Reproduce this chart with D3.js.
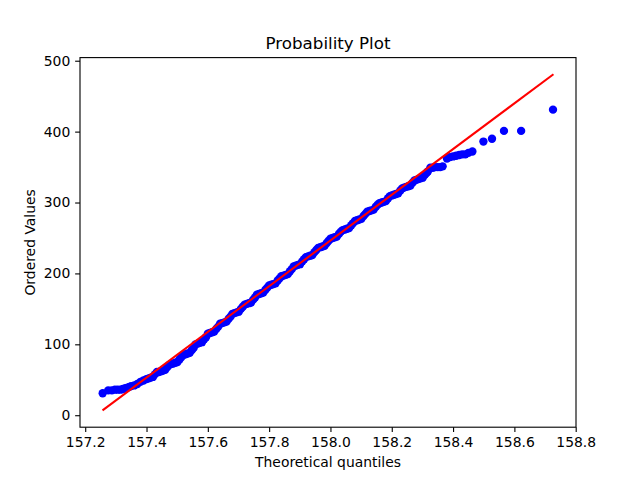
<!DOCTYPE html>
<html>
<head>
<meta charset="utf-8">
<script src="https://cdn.jsdelivr.net/npm/d3@7"></script>
<style>
  html, body { margin: 0; padding: 0; background: #fff; }
  text { font-family: "DejaVu Sans", sans-serif; }
</style>
</head>
<body>
<svg id="chart" width="640" height="480"></svg>
<script>
// Theoretical quantiles (x)
const quantiles = [
  157.257, 157.275, 157.287, 157.297, 157.306, 157.315, 157.323, 157.331, 157.338, 157.344,
  157.35, 157.36, 157.37, 157.38, 157.39,
  157.400, 157.407, 157.414, 157.421, 157.428, 157.434,
  157.440, 157.447, 157.454, 157.461, 157.468, 157.474,
  157.480, 157.487, 157.494, 157.501, 157.508, 157.514,
  157.520, 157.527, 157.534, 157.541, 157.548, 157.554,
  157.560, 157.567, 157.574, 157.581, 157.588, 157.594,
  157.600, 157.607, 157.614, 157.621, 157.628, 157.634,
  157.640, 157.647, 157.654, 157.661, 157.668, 157.674,
  157.680, 157.687, 157.694, 157.701, 157.708, 157.714,
  157.720, 157.727, 157.734, 157.741, 157.748, 157.754,
  157.760, 157.767, 157.774, 157.781, 157.788, 157.794,
  157.800, 157.807, 157.814, 157.821, 157.828, 157.834,
  157.840, 157.847, 157.854, 157.861, 157.868, 157.874,
  157.880, 157.887, 157.894, 157.901, 157.908, 157.914,
  157.920, 157.927, 157.934, 157.941, 157.948, 157.954,
  157.960, 157.967, 157.974, 157.981, 157.988, 157.994,
  158.000, 158.007, 158.014, 158.021, 158.028, 158.034,
  158.040, 158.047, 158.054, 158.061, 158.068, 158.074,
  158.080, 158.087, 158.094, 158.101, 158.108, 158.114,
  158.120, 158.127, 158.134, 158.141, 158.148, 158.154,
  158.160, 158.167, 158.174, 158.181, 158.188, 158.194,
  158.200, 158.207, 158.214, 158.221, 158.228, 158.234,
  158.240, 158.247, 158.254, 158.261, 158.268, 158.274,
  158.280, 158.287, 158.294, 158.301, 158.308, 158.314,
  158.318, 158.326, 158.334, 158.342, 158.35, 158.358, 158.366,
  158.38, 158.39, 158.40, 158.41, 158.42, 158.43, 158.44, 158.45, 158.463,
  158.499, 158.527, 158.566, 158.622, 158.726
];
// Ordered values (y)
const orderedValues = [
  31, 35, 35, 36, 36, 36, 37, 38, 39, 40,
  41, 42, 44, 47, 49,
  51, 52, 53, 54, 58, 61,
  61, 62, 63, 64, 68, 71,
  72, 73, 74, 75, 79, 82,
  85, 86, 87, 88, 92, 95,
  100, 101, 102, 103, 107, 110,
  115, 116, 117, 118, 122, 125,
  129, 130, 131, 132, 136, 139,
  143, 144, 145, 146, 150, 153,
  156, 157, 158, 159, 163, 166,
  170, 171, 172, 173, 177, 180,
  183, 184, 185, 186, 190, 193,
  196, 197, 198, 199, 203, 206,
  210, 211, 212, 213, 217, 220,
  223, 224, 225, 226, 230, 233,
  236, 237, 238, 239, 243, 246,
  249, 250, 251, 252, 256, 259,
  261, 262, 263, 264, 268, 271,
  274, 275, 276, 277, 281, 284,
  287, 288, 289, 290, 294, 297,
  299, 300, 301, 302, 306, 309,
  310, 311, 312, 313, 317, 320,
  321, 322, 323, 324, 328, 331,
  332, 333, 334, 335, 339, 342,
  344, 349, 349, 350, 350, 350, 351,
  362, 364, 365, 366, 367, 368, 368, 370, 372,
  386, 390, 401, 401, 431
];
// Least-squares fit line end points
const fitX = [157.2565, 158.7275];
const fitY = [6.8, 480.9];

const xTicks = [157.2, 157.4, 157.6, 157.8, 158.0, 158.2, 158.4, 158.6, 158.8];
const yTicks = [0, 100, 200, 300, 400, 500];

const titleText = "Probability Plot";
const xLabelText = "Theoretical quantiles";
const yLabelText = "Ordered Values";

(function () {
  const svg = d3.select("#chart");
  const mL = 80, mR = 576, mT = 57.6, mB = 427.2;

  const x = d3.scaleLinear().domain([157.183, 158.801]).range([mL, mR]);
  const y = d3.scaleLinear().domain([-16.9, 504.4]).range([mB, mT]);

  svg.append("rect").attr("x", 0).attr("y", 0).attr("width", 640).attr("height", 480).attr("fill", "#fff");

  // points
  const pts = quantiles.map((q, i) => ({ q, v: orderedValues[i] }));
  svg.append("g").selectAll("circle").data(pts).join("circle")
    .attr("cx", d => x(d.q))
    .attr("cy", d => y(d.v))
    .attr("r", 4.17)
    .attr("fill", "#0000ff");

  // fit line
  const line = d3.line().x(d => x(d[0])).y(d => y(d[1]));
  svg.append("path")
    .datum(fitX.map((v, i) => [v, fitY[i]]))
    .attr("d", line)
    .attr("fill", "none")
    .attr("stroke", "#ff0000")
    .attr("stroke-width", 2.08);

  // axes
  const xAxis = d3.axisBottom(x).tickValues(xTicks).tickFormat(d3.format(".1f")).tickSize(4.86).tickPadding(4.86);
  const yAxis = d3.axisLeft(y).tickValues(yTicks).tickFormat(d3.format("d")).tickSize(4.86).tickPadding(4.86);

  const gx = svg.append("g").attr("transform", `translate(0,${mB})`).call(xAxis);
  const gy = svg.append("g").attr("transform", `translate(${mL},0)`).call(yAxis);
  [gx, gy].forEach(g => {
    g.select(".domain").remove();
    g.selectAll(".tick line").attr("stroke", "#000").attr("stroke-width", 1.11);
    g.selectAll(".tick text").attr("fill", "#000").style("font-size", "13.9px").style("font-family", "DejaVu Sans, sans-serif");
  });

  // frame
  svg.append("rect")
    .attr("x", mL).attr("y", mT)
    .attr("width", mR - mL).attr("height", mB - mT)
    .attr("fill", "none").attr("stroke", "#000").attr("stroke-width", 1.11);

  // title & labels
  svg.append("text").attr("x", (mL + mR) / 2).attr("y", 49)
    .attr("text-anchor", "middle").style("font-size", "16.7px").attr("fill", "#000").text(titleText);
  svg.append("text").attr("x", (mL + mR) / 2).attr("y", 467)
    .attr("text-anchor", "middle").style("font-size", "13.9px").attr("fill", "#000").text(xLabelText);
  svg.append("text").attr("transform", `translate(35,${(mT + mB) / 2}) rotate(-90)`)
    .attr("text-anchor", "middle").style("font-size", "13.9px").attr("fill", "#000").text(yLabelText);
})();
</script>
</body>
</html>
